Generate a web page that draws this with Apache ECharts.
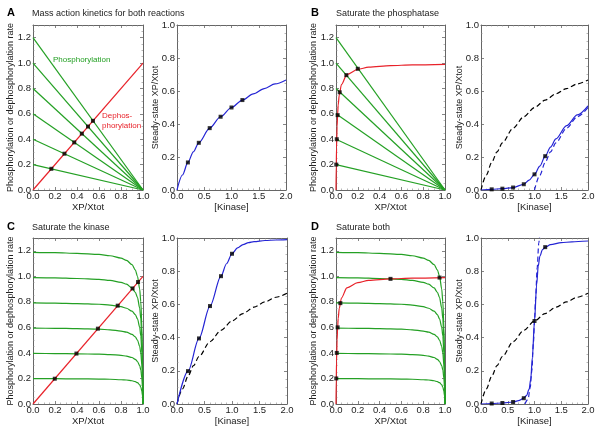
<!DOCTYPE html>
<html>
<head>
<meta charset="utf-8">
<script src="https://cdn.jsdelivr.net/npm/echarts@6/dist/echarts.min.js"></script>
<style>
  html, body { margin: 0; padding: 0; background: #ffffff; }
  #chart { width: 600px; height: 430px; }
</style>
</head>
<body>
<div id="chart"></div>
<script>
// ---- data ----
// starting phosphorylation rates (value at XP/Xtot = 0)
var phosLevels = [0.2, 0.4, 0.6, 0.8, 1.0, 1.2];

// mass-action dephosphorylation (straight line)
var linearDephos = [[0, 0], [1, 1]];

// saturated phosphatase: dephosphorylation rate vs XP/Xtot
var satPhosX = [0, 0.0025, 0.005, 0.01, 0.015, 0.02, 0.03, 0.05, 0.1, 0.2, 0.3, 0.5, 0.7, 1.0];
var satPhosY = [0, 0.2, 0.33, 0.5, 0.6, 0.67, 0.75, 0.83, 0.91, 0.95, 0.968, 0.98, 0.986, 0.99];

// saturated kinase: phosphorylation rate curves vs XP/Xtot
var satKinX = [0, 0.2, 0.4, 0.6, 0.7, 0.8, 0.85, 0.9, 0.93, 0.95, 0.97, 0.98, 0.99, 0.995, 1.0];
var satKin02 = [0.198, 0.198, 0.197, 0.195, 0.194, 0.19, 0.188, 0.182, 0.175, 0.167, 0.15, 0.133, 0.1, 0.067, 0];
var satKin04 = [0.396, 0.395, 0.393, 0.39, 0.387, 0.381, 0.375, 0.364, 0.35, 0.333, 0.3, 0.267, 0.2, 0.133, 0];
var satKin06 = [0.594, 0.593, 0.59, 0.586, 0.581, 0.571, 0.563, 0.545, 0.525, 0.5, 0.45, 0.4, 0.3, 0.2, 0];
var satKin08 = [0.792, 0.79, 0.786, 0.781, 0.774, 0.762, 0.75, 0.727, 0.7, 0.667, 0.6, 0.533, 0.4, 0.267, 0];
var satKin10 = [0.99, 0.988, 0.983, 0.976, 0.968, 0.952, 0.938, 0.909, 0.875, 0.833, 0.75, 0.667, 0.5, 0.33, 0];
var satKin12 = [1.188, 1.185, 1.18, 1.171, 1.161, 1.143, 1.125, 1.091, 1.05, 1.0, 0.9, 0.8, 0.6, 0.4, 0];

// steady-state intersection points on the rate plots
var dotsA = [[0.167, 0.167], [0.286, 0.286], [0.375, 0.375], [0.444, 0.444], [0.5, 0.5], [0.545, 0.545]];
var dotsB = [[0.0025, 0.2], [0.007, 0.4], [0.015, 0.59], [0.034, 0.77], [0.095, 0.905], [0.2, 0.955]];
var dotsC = [[0.198, 0.198], [0.395, 0.395], [0.59, 0.59], [0.77, 0.77], [0.905, 0.905], [0.955, 0.955]];
var dotsD = [[0.0025, 0.2], [0.007, 0.4], [0.015, 0.6], [0.04, 0.79], [0.5, 0.98], [0.95, 0.99]];

// steady-state XP/Xtot vs [Kinase]
var kinase = [0, 0.1, 0.2, 0.3, 0.4, 0.6, 0.8, 1.0, 1.2, 1.4, 1.6, 1.8, 2.0];
var massResp = [0, 0.091, 0.167, 0.231, 0.286, 0.375, 0.444, 0.5, 0.545, 0.583, 0.615, 0.643, 0.667];

var satPhosRespK = [0, 0.2, 0.4, 0.6, 0.8, 0.9, 1.0, 1.1, 1.2, 1.3, 1.4, 1.6, 1.8, 2.0];
var satPhosResp = [0, 0.004, 0.008, 0.015, 0.035, 0.06, 0.095, 0.145, 0.205, 0.26, 0.31, 0.39, 0.455, 0.51];
var satPhosApproxK = [1.0, 1.1, 1.2, 1.3, 1.4, 1.6, 1.8, 2.0];
var satPhosApprox = [0, 0.09, 0.167, 0.231, 0.286, 0.375, 0.444, 0.5];

var satKinRespK = [0, 0.2, 0.4, 0.6, 0.8, 0.9, 1.0, 1.1, 1.2, 1.3, 1.4, 1.6, 1.8, 2.0];
var satKinResp = [0, 0.198, 0.395, 0.59, 0.77, 0.845, 0.905, 0.94, 0.96, 0.972, 0.978, 0.985, 0.988, 0.99];

var bothRespK = [0, 0.2, 0.4, 0.6, 0.7, 0.8, 0.85, 0.9, 0.93, 0.96, 1.0, 1.04, 1.07, 1.1, 1.15, 1.2, 1.3, 1.5, 1.7, 2.0];
var bothResp = [0, 0.003, 0.006, 0.012, 0.02, 0.035, 0.05, 0.09, 0.15, 0.28, 0.5, 0.72, 0.83, 0.89, 0.93, 0.945, 0.96, 0.972, 0.977, 0.982];
var bothApproxK = [0.82, 0.88, 0.92, 0.95, 0.98, 1.0, 1.02, 1.05, 1.08, 1.1];
var bothApprox = [0, 0.03, 0.1, 0.2, 0.37, 0.5, 0.63, 0.82, 0.97, 1.03];

var respDotK = [0.2, 0.4, 0.6, 0.8, 1.0, 1.2];
var respDotsA = [0.167, 0.286, 0.375, 0.444, 0.5, 0.545];
var respDotsB = [0.004, 0.008, 0.015, 0.035, 0.095, 0.205];
var respDotsC = [0.198, 0.395, 0.59, 0.77, 0.905];
var respDotsD = [0.003, 0.006, 0.012, 0.035, 0.5, 0.945];

var panelTitles = ["Mass action kinetics for both reactions", "Saturate the phosphatase", "Saturate the kinase", "Saturate both"];
var panelLetters = ["A", "B", "C", "D"];

// ---- styling ----
var GREEN = "#24a024";
var RED = "#e8222a";
var BLUE = "#2424d4";
var FONT = "Liberation Sans";

function zip(xs, ys) {
  return ys.map(function (y, i) { return [xs[i], y]; });
}

var grids = [
  { left: 33, top: 25, width: 110, height: 165 },
  { left: 177, top: 25, width: 109, height: 165 },
  { left: 336, top: 25, width: 109, height: 165 },
  { left: 481, top: 25, width: 107, height: 165 },
  { left: 33, top: 238, width: 110, height: 166 },
  { left: 177, top: 238, width: 110, height: 166 },
  { left: 336, top: 238, width: 109, height: 166 },
  { left: 481, top: 238, width: 107, height: 166 }
];

var xAxes = [];
var yAxes = [];

function fmt(v) { return v.toFixed(1); }

function addAxes(gi, rateplot) {
  var xMax = rateplot ? 1 : 2;
  var xInt = rateplot ? 0.2 : 0.5;
  var yMax = rateplot ? 1.3 : 1.0;
  var line = { show: true, onZero: false, lineStyle: { color: "#666", width: 1 } };
  var tick = { show: true, inside: true, length: 3, lineStyle: { color: "#666", width: 0.8 } };
  var minor = { show: true, splitNumber: rateplot ? 4 : 5, length: 1.5, lineStyle: { color: "#888", width: 0.6 } };
  var minorY = { show: true, splitNumber: 4, length: 1.5, lineStyle: { color: "#888", width: 0.6 } };
  var lbl = { fontSize: 9.5, fontFamily: FONT, color: "#222", formatter: fmt };
  // bottom
  xAxes.push({
    type: "value", gridIndex: gi, position: "bottom", min: 0, max: xMax, interval: xInt,
    axisLine: line, axisTick: tick, minorTick: minor, splitLine: { show: false },
    axisLabel: Object.assign({ margin: 1.5 }, lbl),
    name: rateplot ? "XP/Xtot" : "[Kinase]", nameLocation: "middle", nameGap: 12,
    nameMoveOverlap: false,
    nameTextStyle: { fontSize: 9.5, fontFamily: FONT, color: "#222" }
  });
  // top (frame ticks)
  xAxes.push({
    type: "value", gridIndex: gi, position: "top", min: 0, max: xMax, interval: xInt,
    axisLine: line, axisTick: tick, minorTick: minor, splitLine: { show: false },
    axisLabel: { show: false }
  });
  // left
  yAxes.push({
    type: "value", gridIndex: gi, position: "left", min: 0, max: yMax, interval: 0.2,
    axisLine: line, axisTick: tick, minorTick: minorY, splitLine: { show: false },
    axisLabel: Object.assign({ margin: 2, showMaxLabel: !rateplot }, lbl),
    name: rateplot ? "Phosphorylation or dephosphorylation rate" : "Steady-state XP/Xtot",
    nameLocation: "middle", nameGap: rateplot ? 18 : 17, nameMoveOverlap: false,
    nameTextStyle: { fontSize: 9, fontFamily: FONT, color: "#222" }
  });
  // right (frame ticks)
  yAxes.push({
    type: "value", gridIndex: gi, position: "right", min: 0, max: yMax, interval: 0.2,
    axisLine: line, axisTick: tick, minorTick: minorY, splitLine: { show: false },
    axisLabel: { show: false }
  });
}

for (var g = 0; g < 8; g++) addAxes(g, g % 2 === 0);

var series = [];

function curve(gi, data, color, dashed, smooth) {
  series.push({
    type: "line", xAxisIndex: 2 * gi, yAxisIndex: 2 * gi, data: data,
    showSymbol: false, symbol: "none", smooth: smooth ? 0.3 : false, smoothMonotone: "x",
    lineStyle: { color: color, width: 1.2, type: dashed ? [5, 3] : "solid" },
    silent: true, clip: true, z: 2
  });
}

function dots(gi, data) {
  series.push({
    type: "scatter", xAxisIndex: 2 * gi, yAxisIndex: 2 * gi, data: data,
    symbol: "rect", symbolSize: 4, itemStyle: { color: "#000" }, silent: true, z: 5
  });
}

var kinCurves = [satKin02, satKin04, satKin06, satKin08, satKin10, satKin12];

// Panel A
phosLevels.forEach(function (k) { curve(0, [[0, k], [1, 0]], GREEN, false, false); });
curve(0, linearDephos, RED, false, false);
dots(0, dotsA);
curve(1, zip(kinase, massResp), BLUE, false, true);
dots(1, zip(respDotK, respDotsA));

// Panel B
phosLevels.forEach(function (k) { curve(2, [[0, k], [1, 0]], GREEN, false, false); });
curve(2, zip(satPhosX, satPhosY), RED, false, true);
dots(2, dotsB);
curve(3, zip(kinase, massResp), "#000", true, true);
curve(3, zip(satPhosApproxK, satPhosApprox), BLUE, true, true);
curve(3, zip(satPhosRespK, satPhosResp), BLUE, false, true);
dots(3, zip(respDotK, respDotsB));

// Panel C
kinCurves.forEach(function (c) { curve(4, zip(satKinX, c), GREEN, false, true); });
curve(4, linearDephos, RED, false, false);
dots(4, dotsC);
curve(5, zip(kinase, massResp), "#000", true, true);
curve(5, zip(satKinRespK, satKinResp), BLUE, false, true);
dots(5, zip(respDotK, respDotsC));

// Panel D
kinCurves.forEach(function (c) { curve(6, zip(satKinX, c), GREEN, false, true); });
curve(6, zip(satPhosX, satPhosY), RED, false, true);
dots(6, dotsD);
curve(7, zip(kinase, massResp), "#000", true, true);
curve(7, zip(bothApproxK, bothApprox), BLUE, true, true);
curve(7, zip(bothRespK, bothResp), BLUE, false, true);
dots(7, zip(respDotK, respDotsD));

// panel letters, titles and in-plot labels
var graphics = [];
var letterPos = [[7, 7], [311, 7], [7, 221], [311, 221]];
panelLetters.forEach(function (t, i) {
  graphics.push({
    type: "text", left: letterPos[i][0], top: letterPos[i][1],
    style: { text: t, fill: "#000", font: "bold 11px " + FONT }
  });
  graphics.push({
    type: "text", left: letterPos[i][0] + 25, top: letterPos[i][1] + 2,
    style: { text: panelTitles[i], fill: "#222", font: "9px " + FONT }
  });
});
graphics.push({ type: "text", left: 53, top: 56, style: { text: "Phosphorylation", fill: GREEN, font: "8px " + FONT } });
graphics.push({ type: "text", left: 102, top: 112, style: { text: "Dephos-", fill: RED, font: "8px " + FONT } });
graphics.push({ type: "text", left: 102, top: 122, style: { text: "phorylation", fill: RED, font: "8px " + FONT } });

var chart = echarts.init(document.getElementById("chart"), null, { renderer: "canvas" });
chart.setOption({
  animation: false,
  backgroundColor: "#ffffff",
  grid: grids,
  xAxis: xAxes,
  yAxis: yAxes,
  series: series,
  graphic: graphics
});
</script>
</body>
</html>
